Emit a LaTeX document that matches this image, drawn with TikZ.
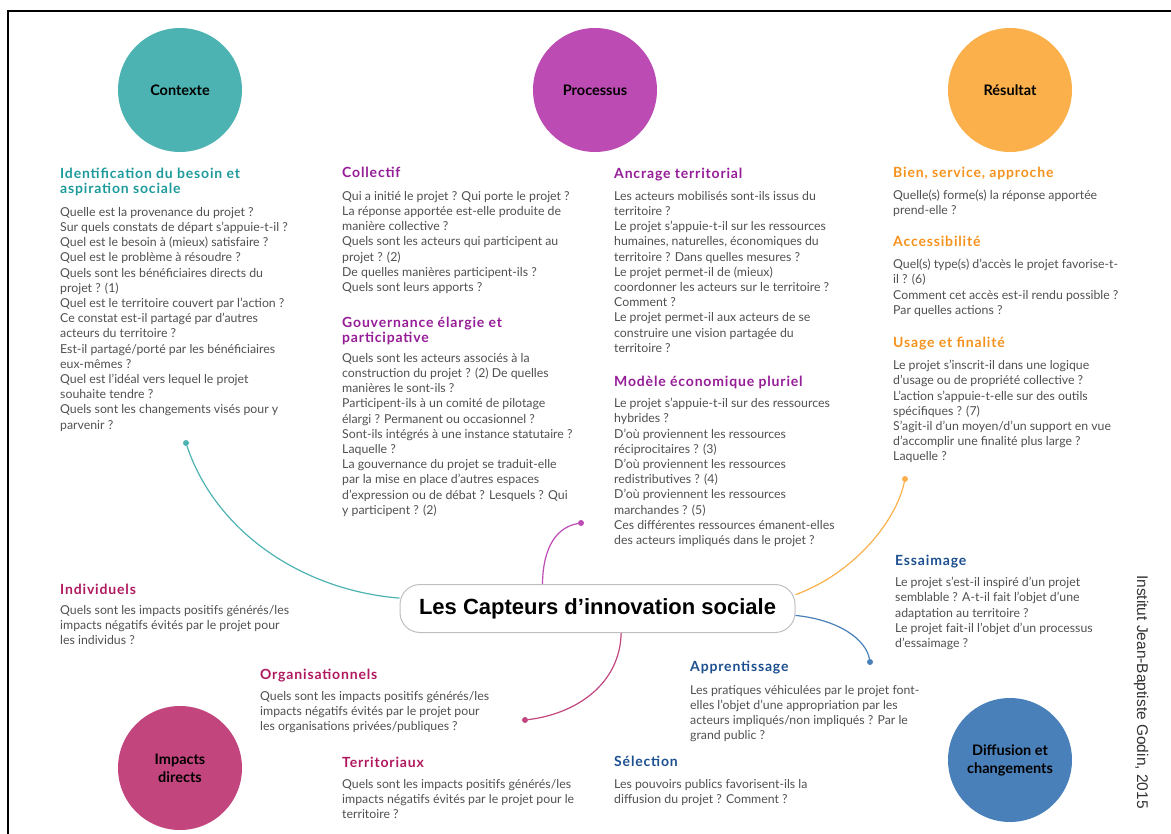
\documentclass[tikz,border=0pt]{standalone}
\usepackage{fontspec}
\setmainfont{Lato}
\newfontfamily\helv{Liberation Sans}
\usetikzlibrary{positioning}

\definecolor{sarcelle}{HTML}{4CB3B2}
\definecolor{violet}{HTML}{BC4BB4}
\definecolor{orange}{HTML}{FCB04C}
\definecolor{framboise}{HTML}{C2457D}
\definecolor{acier}{HTML}{4A80B9}
\definecolor{ctxtitre}{HTML}{1E9A9B}
\definecolor{prctitre}{HTML}{951D97}
\definecolor{restitre}{HTML}{F5921E}
\definecolor{imptitre}{HTML}{B0195E}
\definecolor{difftitre}{HTML}{1C4F8F}
\definecolor{gristexte}{HTML}{505050}

\tikzset{
  bulle/.style={circle,minimum size=124pt,inner sep=0pt,align=center,
    font=\fontsize{14.5}{18}\selectfont\bfseries},
  titre/.style={anchor=north west,inner sep=0pt,align=left,
    font=\fontsize{14}{15}\selectfont\bfseries\addfontfeatures{LetterSpace=6}},
  corps/.style={anchor=north west,inner sep=0pt,align=left,text=gristexte,
    font=\fontsize{12.3}{15.2}\selectfont},
  lien/.style={line width=1.2pt},
  pastille/.style={circle,inner sep=0pt,minimum size=6pt}
}

\begin{document}
\begin{tikzpicture}[x=1pt,y=-1pt]
\useasboundingbox (0,0) rectangle (1171,834);
\draw[line width=2pt] (8,834) -- (8,11) -- (1171,11);

% bulles
\node[bulle,fill=sarcelle] (contexte) at (180,90) {Contexte};
\node[bulle,fill=violet] (processus) at (595,90) {Processus};
\node[bulle,fill=orange] (resultat) at (1010,90) {Résultat};
\node[bulle,fill=framboise] (impacts) at (180,768) {Impacts\\directs};
\node[bulle,fill=acier] (diffusion) at (1010,760) {Diffusion et\\changements};

% centre
\node[draw=black!25,line width=1pt,rounded corners=20pt,minimum width=395pt,
  minimum height=48pt,font=\helv\fontsize{22}{24}\selectfont\bfseries]
  (capteurs) at (597.5,608.5) {Les Capteurs d’innovation sociale};

% contexte
\node[titre,text=ctxtitre] (besoin) at (60,168) {Identification du besoin et\\aspiration sociale};
\node[corps] (besoin-q) at (60,207) {Quelle est la provenance du projet ?\\
Sur quels constats de départ s'appuie-t-il ?\\
Quel est le besoin à (mieux) satisfaire ?\\
Quel est le problème à résoudre ?\\
Quels sont les bénéficiaires directs du\\
projet ? (1)\\
Quel est le territoire couvert par l'action ?\\
Ce constat est-il partagé par d'autres\\
acteurs du territoire ?\\
Est-il partagé/porté par les bénéficiaires\\
eux-mêmes ?\\
Quel est l'idéal vers lequel le projet\\
souhaite tendre ?\\
Quels sont les changements visés pour y\\
parvenir ?};

% processus
\node[titre,text=prctitre] (collectif) at (342,167) {Collectif};
\node[corps] (collectif-q) at (342,191) {Qui a initié le projet ? Qui porte le projet ?\\
La réponse apportée est-elle produite de\\
manière collective ?\\
Quels sont les acteurs qui participent au\\
projet ? (2)\\
De quelles manières participent-ils ?\\
Quels sont leurs apports ?};
\node[titre,text=prctitre] (gouvernance) at (342,317) {Gouvernance élargie et\\participative};
\node[corps] (gouvernance-q) at (342,353) {Quels sont les acteurs associés à la\\
construction du projet ? (2) De quelles\\
manières le sont-ils ?\\
Participent-ils à un comité de pilotage\\
élargi ? Permanent ou occasionnel ?\\
Sont-ils intégrés à une instance statutaire ?\\
Laquelle ?\\
La gouvernance du projet se traduit-elle\\
par la mise en place d'autres espaces\\
d'expression ou de débat ? Lesquels ? Qui\\
y participent ? (2)};
\node[titre,text=prctitre] (ancrage) at (614,168) {Ancrage territorial};
\node[corps] (ancrage-q) at (614,191) {Les acteurs mobilisés sont-ils issus du\\
territoire ?\\
Le projet s'appuie-t-il sur les ressources\\
humaines, naturelles, économiques du\\
territoire ? Dans quelles mesures ?\\
Le projet permet-il de (mieux)\\
coordonner les acteurs sur le territoire ?\\
Comment ?\\
Le projet permet-il aux acteurs de se\\
construire une vision partagée du\\
territoire ?};
\node[titre,text=prctitre] (modele) at (614,376) {Modèle économique pluriel};
\node[corps] (modele-q) at (614,398) {Le projet s'appuie-t-il sur des ressources\\
hybrides ?\\
D'où proviennent les ressources\\
réciprocitaires ? (3)\\
D'où proviennent les ressources\\
redistributives ? (4)\\
D'où proviennent les ressources\\
marchandes ? (5)\\
Ces différentes ressources émanent-elles\\
des acteurs impliqués dans le projet ?};

% resultat
\node[titre,text=restitre] (bien) at (893,167) {Bien, service, approche};
\node[corps] (bien-q) at (893,190) {Quelle(s) forme(s) la réponse apportée\\
prend-elle ?};
\node[titre,text=restitre] (acces) at (893,236) {Accessibilité};
\node[corps] (acces-q) at (893,259) {Quel(s) type(s) d'accès le projet favorise-t-\\
il ? (6)\\
Comment cet accès est-il rendu possible ?\\
Par quelles actions ?};
\node[titre,text=restitre] (usage) at (893,337) {Usage et finalité};
\node[corps] (usage-q) at (893,360) {Le projet s'inscrit-il dans une logique\\
d'usage ou de propriété collective ?\\
L'action s'appuie-t-elle sur des outils\\
spécifiques ? (7)\\
S'agit-il d'un moyen/d'un support en vue\\
d'accomplir une finalité plus large ?\\
Laquelle ?};

% diffusion
\node[titre,text=difftitre] (essaimage) at (895,555) {Essaimage};
\node[corps] (essaimage-q) at (895,577) {Le projet s'est-il inspiré d'un projet\\
semblable ? A-t-il fait l'objet d'une\\
adaptation au territoire ?\\
Le projet fait-il l'objet d'un processus\\
d'essaimage ?};
\node[titre,text=difftitre] (apprent) at (690,661) {Apprentissage};
\node[corps] (apprent-q) at (690,685) {Les pratiques véhiculées par le projet font-\\
elles l'objet d'une appropriation par les\\
acteurs impliqués/non impliqués ? Par le\\
grand public ?};
\node[titre,text=difftitre] (selection) at (614,756) {Sélection};
\node[corps] (selection-q) at (614,779) {Les pouvoirs publics favorisent-ils la\\
diffusion du projet ? Comment ?};

% impacts
\node[titre,text=imptitre] (indiv) at (60,584) {Individuels};
\node[corps] (indiv-q) at (60,605) {Quels sont les impacts positifs générés/les\\
impacts négatifs évités par le projet pour\\
les individus ?};
\node[titre,text=imptitre] (orga) at (260,669) {Organisationnels};
\node[corps] (orga-q) at (260,691) {Quels sont les impacts positifs générés/les\\
impacts négatifs évités par le projet pour\\
les organisations privées/publiques ?};
\node[titre,text=imptitre] (terri) at (342,757) {Territoriaux};
\node[corps] (terri-q) at (342,779) {Quels sont les impacts positifs générés/les\\
impacts négatifs évités par le projet pour le\\
territoire ?};

% liens
\node[pastille,fill=sarcelle] (p-ctx) at (186,443) {};
\node[pastille,fill=violet] (p-prc) at (581,523) {};
\node[pastille,fill=orange] (p-res) at (905,479) {};
\node[pastille,fill=acier] (p-dif) at (870,662) {};
\node[pastille,fill=framboise] (p-imp) at (525,720) {};
\draw[lien,sarcelle] (capteurs.177) .. controls (300,590) and (215,530) .. (p-ctx);
\draw[lien,violet] (capteurs.156) .. controls (543,545) and (558,527) .. (p-prc);
\draw[lien,orange] (capteurs.4.5) .. controls (850,575) and (895,525) .. (p-res);
\draw[lien,acier] (capteurs.-2) .. controls (840,620) and (866,640) .. (p-dif);
\draw[lien,framboise] (capteurs.-46) .. controls (620,685) and (575,714) .. (p-imp);

\node[rotate=-90,text=black!80,font=\helv\fontsize{15.5}{17}\selectfont] (institut) at (1141,692) {Institut Jean-Baptiste Godin, 2015};
\end{tikzpicture}
\end{document}
